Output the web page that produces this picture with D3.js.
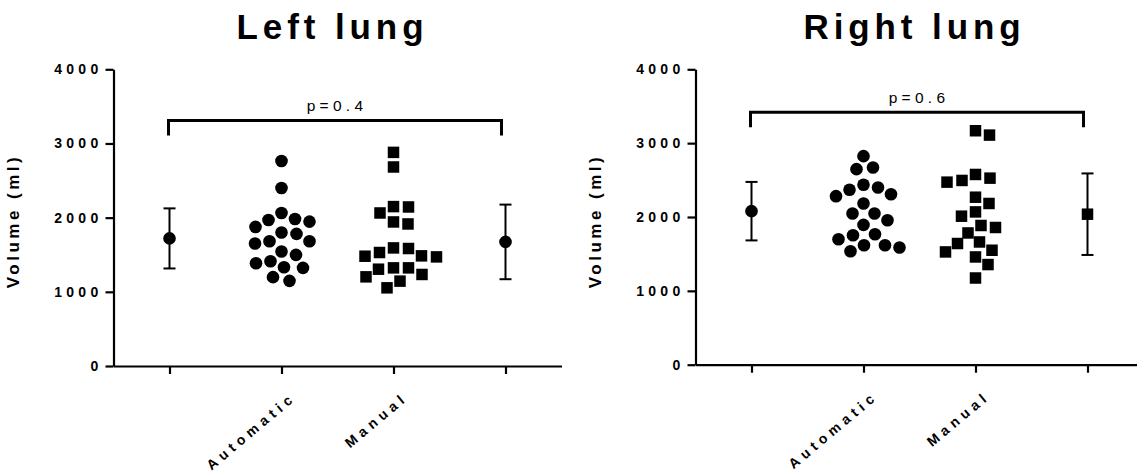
<!DOCTYPE html>
<html>
<head>
<meta charset="utf-8">
<script src="https://cdn.jsdelivr.net/npm/d3@7"></script>
<style>
  body { margin: 0; background: #fff; }
  svg { display: block; font-family: "Liberation Sans", Arial, sans-serif; }
</style>
</head>
<body>
<svg id="chart" width="1137" height="473"></svg>
<script>
// values, ml
const groups = ["Automatic", "Manual"];
const xKeys = ["sumAutomatic", "Automatic", "Manual", "sumManual"];
const yTicks = [0, 1000, 2000, 3000, 4000];

const leftAutomatic = [2763, 2400, 2063, 1969, 1947, 1982, 1875, 1799, 1781, 1682,
  1682, 1651, 1543, 1498, 1386, 1413, 1323, 1332, 1198, 1148];
const leftManual = [2880, 2683, 2144, 2149, 2063, 1942, 1915, 1584, 1592, 1485,
  1471, 1480, 1530, 1323, 1305, 1323, 1202, 1234, 1054, 1144];
const rightAutomatic = [2824, 2648, 2671, 2400, 2436, 2368, 2309, 2282, 2183, 2047,
  2047, 1957, 1893, 1767, 1753, 1699, 1618, 1536, 1586, 1618];
const rightManual = [3168, 3109, 2526, 2472, 2495, 2576, 2268, 2183, 2069, 2011,
  1885, 1858, 1784, 1662, 1641, 1527, 1550, 1459, 1356, 1174];

// mean and SD shown at the outer ticks
const leftMean = [1720, 1673];
const leftSD = [405, 503];
const rightMean = [2079, 2038];
const rightSD = [396, 552];

const pLabels = ["p=0.4", "p=0.6"];
const bracketLevel = [3310, 3420];

const svg = d3.select("#chart");
const circle = d3.symbol(d3.symbolCircle, Math.PI * 6.3 * 6.3)();
const square = d3.symbol(d3.symbolSquare, 11.5 * 11.5)();

// greedy beeswarm: biggest value first, smallest sideways offset that does not collide
function swarm(values, y, minDist) {
  const placed = [];
  const out = new Array(values.length);
  const order = values.map((v, i) => i).sort((a, b) => values[b] - values[a]);
  order.forEach(i => {
    const py = y(values[i]);
    let dx = 0;
    for (let k = 0; k < 400; k++) {
      const s = k * 0.5;
      const cand = k === 0 ? [0] : [s, -s];
      const ok = cand.find(c => placed.every(p => Math.hypot(p.dx - c, p.y - py) >= minDist));
      if (ok !== undefined) { dx = ok; break; }
    }
    placed.push({dx: dx, y: py});
    out[i] = {value: values[i], dx: dx, y: py};
  });
  return out;
}

function drawPanel(opt) {
  const g = svg.append("g");

  const x = d3.scalePoint()
    .domain(xKeys)
    .range([opt.left, opt.left + 448])
    .padding(0.5);
  const y = d3.scaleLinear()
    .domain([0, 4000])
    .range([opt.bottom, 69.3]);

  // title
  g.append("text")
    .attr("x", opt.left + 219)
    .attr("y", 39)
    .attr("text-anchor", "middle")
    .attr("font-size", 35)
    .attr("font-weight", "bold")
    .attr("letter-spacing", "4.9px")
    .text(opt.title);

  // y axis
  const yAxis = g.append("g")
    .attr("transform", "translate(" + opt.left + ",0)")
    .call(d3.axisLeft(y).tickValues(yTicks).tickFormat(d3.format("d"))
      .tickSize(8).tickSizeOuter(0).tickPadding(3));
  yAxis.attr("font-family", null).attr("font-size", 14).attr("font-weight", "bold");
  yAxis.selectAll("path, line").attr("stroke", "#000").attr("stroke-width", 2.2);
  yAxis.selectAll("text").attr("fill", "#000").attr("letter-spacing", "4.3px");

  g.append("text")
    .attr("transform", "translate(" + (opt.left - 95) + ",221) rotate(-90)")
    .attr("text-anchor", "middle")
    .attr("font-size", 17)
    .attr("font-weight", "bold")
    .attr("letter-spacing", "3.5px")
    .text("Volume (ml)");

  // x axis
  const xAxis = g.append("g")
    .attr("transform", "translate(0," + opt.bottom + ")")
    .call(d3.axisBottom(x).tickSize(8).tickSizeOuter(0)
      .tickFormat(d => groups.includes(d) ? d : ""));
  xAxis.attr("font-family", null).attr("font-size", 14).attr("font-weight", "bold");
  xAxis.selectAll("path, line").attr("stroke", "#000").attr("stroke-width", 2.2);
  xAxis.selectAll("text")
    .attr("fill", "#000")
    .attr("letter-spacing", "4.8px")
    .attr("x", 0).attr("y", 0).attr("dy", null)
    .attr("text-anchor", "end")
    .attr("transform", "translate(15,33) rotate(-40)");

  // scatter columns
  [opt.auto, opt.manual].forEach((vals, gi) => {
    const pts = swarm(vals, y, 14.6);
    const cx = x(groups[gi]);
    g.append("g").selectAll("path")
      .data(pts)
      .enter().append("path")
      .attr("d", gi === 0 ? circle : square)
      .attr("transform", d => "translate(" + (cx + d.dx) + "," + d.y + ")")
      .attr("fill", "#000");
  });

  // mean +/- SD
  ["sumAutomatic", "sumManual"].forEach((key, i) => {
    const cx = x(key);
    const top = y(opt.mean[i] + opt.sd[i]);
    const bot = y(opt.mean[i] - opt.sd[i]);
    const eb = g.append("g").attr("stroke", "#000").attr("stroke-width", 2);
    eb.append("line").attr("x1", cx).attr("x2", cx).attr("y1", top).attr("y2", bot);
    eb.append("line").attr("x1", cx - 6).attr("x2", cx + 6).attr("y1", top).attr("y2", top);
    eb.append("line").attr("x1", cx - 6).attr("x2", cx + 6).attr("y1", bot).attr("y2", bot);
    g.append("path")
      .attr("d", opt.summarySymbols[i])
      .attr("transform", "translate(" + cx + "," + y(opt.mean[i]) + ")")
      .attr("fill", "#000");
  });

  // significance bracket
  const by = y(opt.bracket);
  const bx0 = x("sumAutomatic") - 1;
  const bx1 = x("sumManual") - 4;
  g.append("path")
    .attr("d", "M" + bx0 + "," + (by + 15) + "V" + by + "H" + bx1 + "V" + (by + 15))
    .attr("fill", "none")
    .attr("stroke", "#000")
    .attr("stroke-width", 3);
  g.append("text")
    .attr("x", (bx0 + bx1) / 2 + 2)
    .attr("y", by - 9)
    .attr("text-anchor", "middle")
    .attr("font-size", 15.5)
    .attr("letter-spacing", "4.3px")
    .text(opt.p);
}

drawPanel({
  left: 113.5, bottom: 366, title: "Left lung",
  auto: leftAutomatic, manual: leftManual,
  mean: leftMean, sd: leftSD, summarySymbols: [circle, circle],
  p: pLabels[0], bracket: bracketLevel[0]
});
drawPanel({
  left: 695.5, bottom: 364.7, title: "Right lung",
  auto: rightAutomatic, manual: rightManual,
  mean: rightMean, sd: rightSD, summarySymbols: [circle, square],
  p: pLabels[1], bracket: bracketLevel[1]
});
</script>
</body>
</html>
